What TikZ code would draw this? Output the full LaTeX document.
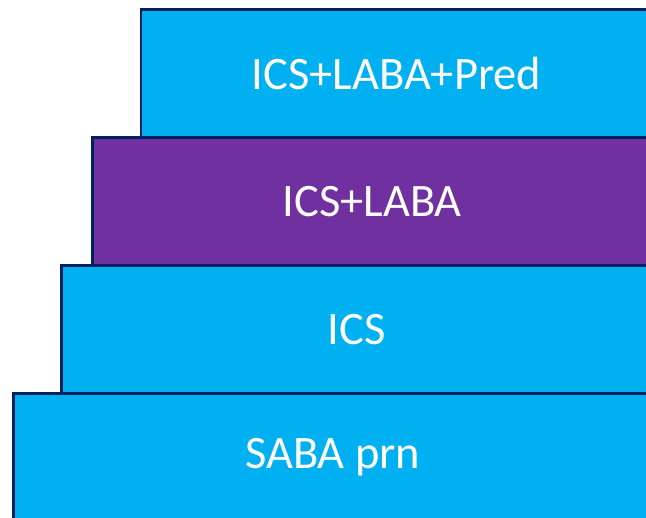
\documentclass[tikz,border=0pt]{standalone}
\usepackage{fontspec}
\setmainfont{Carlito}
\usetikzlibrary{positioning}
\definecolor{stepcyan}{HTML}{00B0F0}
\definecolor{steppurple}{HTML}{7030A0}
\definecolor{stepline}{HTML}{002060}
\tikzset{
stepbox/.style={draw=stepline,line width=2.5pt,fill=#1,text=white,
  minimum height=128pt,inner sep=0pt,outer sep=0pt,font=\fontsize{46.5}{52}\selectfont},
stepbox/.default=stepcyan,
}

\begin{document}
\begin{tikzpicture}[x=1pt,y=1pt]
        \useasboundingbox (0,0) rectangle (646,518);
        \clip (0,0) rectangle (646,518);
        \node[stepbox, minimum width=511pt, anchor=north east]
        (pred) at (652,508.5) {ICS+LABA+Pred};
        \node[stepbox=steppurple, minimum width=559.5pt, anchor=north east]
        (laba) at (pred.south east) {ICS+LABA};
        \node[stepbox, minimum width=590.5pt, anchor=north east]
        (ics) at (laba.south east) {ICS};
        \node[stepbox, minimum width=638.5pt, anchor=north east]
        (saba) at (ics.south east) {SABA prn};
    \end{tikzpicture}
\end{document}
